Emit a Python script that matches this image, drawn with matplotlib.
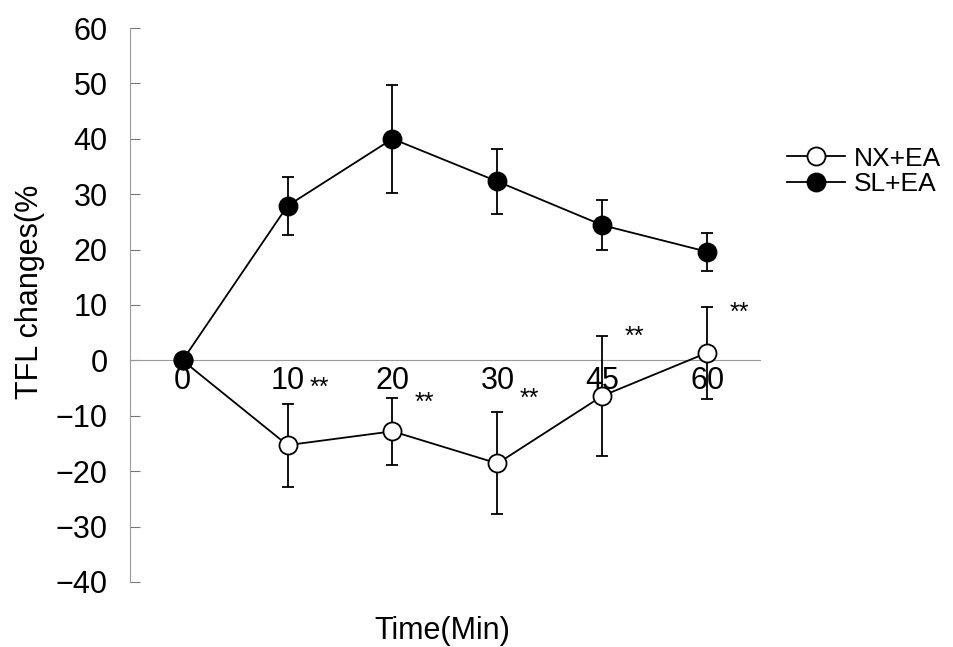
import matplotlib
matplotlib.use('Agg')
import matplotlib.pyplot as plt
from matplotlib.lines import Line2D
import numpy as np

plt.rcParams['font.family'] = ['Liberation Sans', 'DejaVu Sans']

# data
times = ['0', '10', '20', '30', '45', '60']
nx_mean = [0, -15.3, -12.8, -18.6, -6.4, 1.4]
nx_err = [0, 7.5, 6.0, 9.2, 10.8, 8.3]
sl_mean = [0, 27.9, 40.0, 32.3, 24.4, 19.6]
sl_err = [0, 5.2, 9.8, 5.9, 4.5, 3.4]
# significance marks: (category index, y value)
sig_x = [1, 2, 3, 4, 5]
sig_y = [-5.0, -7.6, -6.9, 4.2, 8.5]

fig = plt.figure(figsize=(9.54, 6.47), dpi=100)
ax = fig.add_axes([0.1363, 0.1005, 0.6603, 0.8562])

x = np.arange(len(times))

ax.errorbar(x, nx_mean, yerr=nx_err, color='black', lw=1.3, elinewidth=1.3,
            capsize=4.5, capthick=1.3, marker='o', markersize=13,
            markerfacecolor='white', markeredgecolor='black', markeredgewidth=1.3,
            zorder=3)
ax.errorbar(x, sl_mean, yerr=sl_err, color='black', lw=1.3, elinewidth=1.3,
            capsize=4.5, capthick=1.3, marker='o', markersize=13,
            markerfacecolor='black', markeredgecolor='black', markeredgewidth=1.3,
            zorder=4)

for xi, yi in zip(sig_x, sig_y):
    ax.text(xi + 0.3, yi, '**', fontsize=18, ha='center', va='center')

ax.set_xlim(-0.5, 5.5)
ax.set_ylim(-40, 60)
ax.set_yticks(np.arange(-40, 61, 10))
ax.set_yticklabels([str(v).replace('-', '\u2212') for v in range(-40, 61, 10)])
ax.set_xticks(x)
ax.set_xticklabels(times)

for s in ['top', 'right']:
    ax.spines[s].set_visible(False)
ax.spines['bottom'].set_position(('data', 0))
ax.spines['bottom'].set_color('#999999')
ax.spines['bottom'].set_linewidth(0.8)
ax.spines['left'].set_color('#999999')
ax.spines['left'].set_linewidth(0.8)

ax.tick_params(axis='y', direction='in', length=7, width=0.8, color='#777777',
               pad=16, labelsize=22)
ax.tick_params(axis='x', length=0, pad=4, labelsize=22)

ax.set_ylabel('TFL changes(%', fontsize=22)
ax.yaxis.set_label_coords(-0.135, 0.523)
ax.set_xlabel('Time(Min)', fontsize=22)
ax.xaxis.set_label_coords(0.495, -0.062)

handles = [
    Line2D([], [], color='black', lw=1.3, marker='o', markersize=13,
           markerfacecolor='white', markeredgecolor='black', markeredgewidth=1.3),
    Line2D([], [], color='black', lw=1.3, marker='o', markersize=13,
           markerfacecolor='black', markeredgecolor='black', markeredgewidth=1.3),
]
fig.legend(handles, ['NX+EA', 'SL+EA'], loc='upper left',
           bbox_to_anchor=(0.8, 0.81), frameon=False,
           fontsize=19, handlelength=2.2, handletextpad=0.35, labelspacing=0.05)

fig.savefig('out.png', dpi=100, facecolor='white')
